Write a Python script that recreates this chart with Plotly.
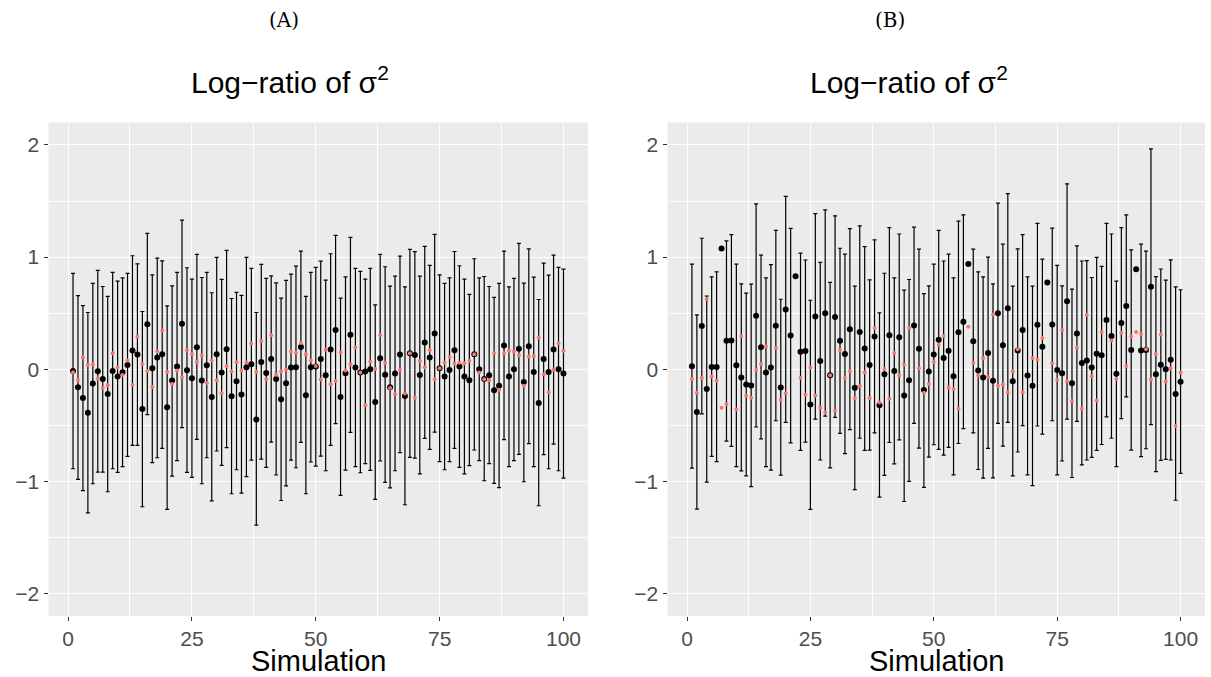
import plotly.graph_objects as go

sim = list(range(1, 101))

# ---- Panel A ----
A_est = [-0.015, -0.161, -0.256, -0.387, -0.128, -0.018, -0.086, -0.220, -0.015, -0.065,
         -0.027, 0.039, 0.167, 0.131, -0.354, 0.402, 0.009, 0.104, 0.134, -0.339,
         -0.101, 0.024, 0.405, -0.009, -0.080, 0.197, -0.101, 0.036, -0.247, 0.134,
         -0.030, 0.179, -0.241, -0.107, -0.226, 0.018, 0.045, -0.449, 0.065, -0.033,
         0.092, -0.086, -0.268, -0.125, 0.015, 0.018, 0.199, -0.232, 0.018, 0.024,
         0.092, -0.054, 0.176, 0.351, -0.247, -0.036, 0.307, 0.015, -0.030, -0.021,
         0.000, -0.292, 0.098, -0.048, -0.161, -0.039, 0.131, -0.238, 0.143, 0.128,
         -0.051, 0.238, 0.104, 0.318, 0.009, -0.065, -0.006, 0.170, 0.024, -0.065,
         -0.098, 0.134, 0.000, -0.086, -0.054, -0.188, -0.146, 0.211, -0.065, 0.000,
         0.182, -0.113, 0.205, -0.024, -0.301, 0.092, -0.024, 0.176, 0.000, -0.039]
A_truth = [-0.027, -0.095, 0.104, 0.039, 0.042, -0.083, -0.164, -0.143, 0.143, 0.015,
           -0.051, 0.077, -0.140, 0.292, 0.048, -0.015, -0.158, 0.161, 0.345, -0.024,
           -0.131, -0.012, -0.074, 0.170, 0.134, 0.065, 0.122, -0.125, 0.077, -0.098,
           -0.214, 0.030, -0.018, 0.063, -0.012, 0.060, 0.229, -0.024, 0.250, -0.089,
           0.304, -0.048, -0.021, -0.003, 0.158, 0.146, 0.235, 0.134, 0.080, 0.030,
           -0.092, 0.173, -0.134, -0.104, 0.152, -0.012, 0.042, 0.193, -0.030, -0.321,
           0.068, 0.003, 0.304, 0.057, -0.167, -0.223, -0.006, -0.217, 0.143, -0.253,
           0.071, 0.018, 0.170, -0.089, 0.009, 0.060, 0.110, 0.048, 0.057, 0.054,
           0.074, 0.134, -0.030, -0.089, -0.098, 0.143, -0.182, 0.143, 0.164, 0.158,
           0.125, -0.146, 0.113, 0.119, 0.283, -0.045, -0.206, -0.003, 0.232, 0.164]
A_upper = [0.854, 0.657, 0.568, 0.506, 0.765, 0.881, 0.738, 0.649, 0.863, 0.786,
           0.815, 0.854, 1.012, 0.940, 0.515, 1.211, 0.842, 0.991, 0.967, 0.565,
           0.744, 0.863, 1.330, 0.905, 0.804, 1.024, 0.818, 0.863, 0.682, 0.997,
           0.801, 1.060, 0.631, 0.685, 0.658, 0.997, 0.899, 0.506, 0.935, 0.810,
           0.833, 0.771, 0.634, 0.792, 0.848, 0.920, 1.054, 0.649, 0.863, 0.908,
           0.964, 0.795, 1.030, 1.193, 0.634, 0.824, 1.176, 0.899, 0.872, 0.804,
           0.899, 0.574, 1.024, 0.914, 0.741, 0.830, 1.009, 0.735, 1.069, 1.048,
           0.830, 1.095, 0.926, 1.202, 0.842, 0.765, 0.815, 1.050, 0.923, 0.804,
           0.667, 0.985, 0.815, 0.827, 0.738, 0.640, 0.765, 1.054, 0.735, 0.810,
           1.122, 0.768, 1.074, 0.821, 0.622, 0.946, 0.839, 1.018, 0.908, 0.893]
A_lower = [-0.887, -0.982, -1.083, -1.280, -1.021, -0.917, -0.917, -1.092, -0.887, -0.920,
           -0.869, -0.777, -0.679, -0.679, -1.226, -0.405, -0.833, -0.789, -0.705, -1.250,
           -0.952, -0.815, -0.521, -0.920, -0.964, -0.625, -1.021, -0.789, -1.173, -0.729,
           -0.857, -0.699, -1.110, -0.896, -1.104, -0.958, -0.810, -1.390, -0.801, -0.875,
           -0.649, -0.943, -1.170, -1.039, -0.810, -0.878, -0.652, -1.110, -0.827, -0.863,
           -0.774, -0.905, -0.679, -0.485, -1.125, -0.899, -0.562, -0.869, -0.923, -0.842,
           -0.902, -1.161, -0.818, -1.009, -1.057, -0.905, -0.744, -1.208, -0.786, -0.792,
           -0.932, -0.616, -0.714, -0.560, -0.824, -0.896, -0.824, -0.705, -0.875, -0.932,
           -0.860, -0.720, -0.815, -0.994, -0.842, -1.017, -1.056, -0.628, -0.869, -0.815,
           -0.759, -1.003, -0.664, -0.869, -1.217, -0.762, -0.887, -0.667, -0.905, -0.970]

# ---- Panel B ----
B_est = [0.026, -0.382, 0.385, -0.176, 0.021, 0.021, 1.076, 0.253, 0.256, 0.035,
         -0.074, -0.135, -0.144, 0.476, 0.197, -0.029, 0.015, 0.388, -0.162, 0.532,
         0.300, 0.829, 0.156, 0.162, -0.315, 0.471, 0.074, 0.500, -0.053, 0.465,
         0.253, 0.135, 0.356, -0.165, 0.332, 0.185, 0.038, 0.291, -0.321, -0.044,
         0.303, -0.015, 0.285, -0.235, -0.097, 0.391, 0.182, -0.185, -0.021, 0.132,
         0.262, 0.100, 0.165, -0.062, 0.329, 0.424, 0.938, 0.250, -0.012, -0.074,
         0.144, -0.103, 0.500, 0.215, 0.544, -0.106, 0.168, 0.350, -0.056, -0.147,
         0.397, 0.200, 0.774, 0.400, -0.006, -0.035, 0.606, -0.124, 0.318, 0.056,
         0.079, 0.015, 0.138, 0.124, 0.438, 0.297, -0.041, 0.412, 0.565, 0.171,
         0.891, 0.168, 0.171, 0.735, -0.044, 0.041, 0.000, 0.085, -0.221, -0.112]
B_truth = [-0.088, -0.209, -0.076, 0.626, -0.065, -0.103, -0.344, -0.312, None, -0.359,
           0.297, -0.235, -0.253, -0.006, 0.047, 0.203, None, 0.188, -0.273, -0.215,
           None, None, -0.076, -0.226, 0.015, -0.235, -0.344, -0.385, -0.053, -0.371,
           0.171, -0.079, -0.018, -0.259, -0.150, -0.029, -0.259, 0.368, -0.297, 0.003,
           -0.262, 0.144, -0.053, 0.041, 0.371, None, 0.009, -0.209, -0.132, 0.065,
           0.218, 0.297, -0.162, -0.176, -0.353, None, 0.379, 0.059, -0.056, 0.097,
           -0.068, 0.488, -0.147, -0.135, -0.206, -0.018, 0.179, -0.206, None, 0.100,
           0.085, 0.279, None, 0.053, -0.094, 0.350, -0.106, -0.282, 0.194, -0.353,
           0.485, -0.062, -0.279, 0.329, None, 0.256, -0.088, 0.326, 0.029, 0.291,
           0.332, 0.315, 0.179, -0.091, 0.135, 0.309, -0.109, 0.009, -0.506, -0.029]
B_upper = [0.938, 0.485, 1.168, 0.653, 0.824, 0.868, None, 1.144, 1.200, 0.938,
           0.762, 0.679, 0.759, 1.474, 1.018, 0.815, 0.932, 1.238, 0.624, 1.541,
           1.256, None, 1.035, 0.974, 0.615, 1.388, 0.953, 1.421, 0.774, 1.368,
           1.079, 1.026, 1.253, 0.741, 1.279, 1.094, 0.797, 1.153, 0.503, 0.856,
           1.262, 0.815, 1.206, 0.706, 0.800, 1.268, 1.071, 0.674, 0.744, 0.938,
           1.238, 0.965, 1.026, 0.815, 1.321, 1.376, None, 1.071, 0.868, 0.824,
           1.000, 0.762, 1.482, 1.115, 1.565, 0.741, 1.074, 1.200, 0.824, 0.741,
           1.300, 0.982, None, 1.259, 0.926, 0.744, 1.653, 0.715, 1.100, 0.965,
           0.968, 0.818, 0.997, 0.918, 1.300, 1.206, 0.785, 1.262, 1.376, 1.065,
           None, 1.115, 1.053, 1.965, 0.826, 0.894, 0.794, 0.976, 0.735, 0.709]
B_lower = [-0.882, -1.247, -0.397, -1.006, -0.776, -0.824, None, -0.641, -0.688, -0.868,
           -0.906, -0.950, -1.047, -0.515, -0.621, -0.868, -0.900, -0.459, -0.944, -0.474,
           -0.656, None, -0.724, -0.650, -1.250, -0.444, -0.809, -0.418, -0.880, -0.429,
           -0.571, -0.753, -0.538, -1.074, -0.615, -0.724, -0.721, -0.568, -1.141, -0.947,
           -0.653, -0.844, -0.629, -1.179, -1.000, -0.482, -0.703, -1.053, -0.783, -0.673,
           -0.715, -0.765, -0.697, -0.941, -0.662, -0.529, None, -0.568, -0.894, -0.971,
           -0.706, -0.968, -0.482, -0.685, -0.474, -0.950, -0.738, -0.503, -0.941, -1.038,
           -0.506, -0.579, None, -0.459, -0.941, -0.818, -0.444, -0.965, -0.465, -0.853,
           -0.809, -0.785, -0.724, -0.671, -0.424, -0.615, -0.868, -0.441, -0.247, -0.721,
           None, -0.779, -0.709, -0.494, -0.912, -0.812, -0.803, -0.809, -1.168, -0.929]

x_ticks = [0, 25, 50, 75, 100]
y_ticks = [-2, -1, 0, 1, 2]

W, H = 1211, 677
fig = go.Figure()


def add_panel(est, truth, upper, lower, xa, ya):
    ex, ey, eplus, eminus = [], [], [], []
    for s, e, u, l in zip(sim, est, upper, lower):
        if u is None or l is None:
            continue
        ex.append(s)
        ey.append(e)
        eplus.append(u - e)
        eminus.append(e - l)
    fig.add_trace(go.Scatter(
        x=ex, y=ey, mode="markers", xaxis=xa, yaxis=ya,
        marker=dict(size=1, color="rgba(0,0,0,0)"),
        error_y=dict(type="data", symmetric=False, array=eplus, arrayminus=eminus,
                     color="black", thickness=1.2, width=2),
        showlegend=False, hoverinfo="skip"))
    fig.add_trace(go.Scatter(
        x=sim, y=est, mode="markers", xaxis=xa, yaxis=ya,
        marker=dict(size=6, color="black"), showlegend=False))
    fig.add_trace(go.Scatter(
        x=sim, y=truth, mode="markers", xaxis=xa, yaxis=ya,
        marker=dict(size=4, color="#F8766D"), showlegend=False))


add_panel(A_est, A_truth, A_upper, A_lower, "x", "y")
add_panel(B_est, B_truth, B_upper, B_lower, "x2", "y2")

ydom = [(H - 616) / H, (H - 122.5) / H]
tickfont = dict(family="Liberation Sans, Arial, sans-serif", size=21, color="#4D4D4D")


def xaxis_cfg(dom, anchor):
    return dict(domain=dom, anchor=anchor, range=[-3.95, 104.95], tickvals=x_ticks,
                ticks="outside", ticklen=4, tickwidth=1, tickcolor="#333333",
                showgrid=True, gridcolor="white", gridwidth=1.2, zeroline=False,
                showline=False, tickfont=tickfont, automargin=False,
                minor=dict(tickvals=[12.5, 37.5, 62.5, 87.5], showgrid=True,
                           gridcolor="white", gridwidth=0.6, ticks=""))


def yaxis_cfg(anchor):
    return dict(domain=ydom, anchor=anchor, range=[-2.2, 2.2], tickvals=y_ticks,
                ticks="outside", ticklen=4, tickwidth=1, tickcolor="#333333",
                showgrid=True, gridcolor="white", gridwidth=1.2, zeroline=False,
                showline=False, tickfont=tickfont, automargin=False,
                minor=dict(tickvals=[-1.5, -0.5, 0.5, 1.5], showgrid=True,
                           gridcolor="white", gridwidth=0.6, ticks=""))


xa_dom = [48.5 / W, 588 / W]
xb_dom = [667.5 / W, 1205 / W]

annotations = []
for label, cx in [("(A)", 284), ("(B)", 890)]:
    annotations.append(dict(text=label, x=cx / W, y=1 - 20 / H, xref="paper", yref="paper",
                            xanchor="center", yanchor="middle", showarrow=False,
                            font=dict(family="DejaVu Serif, Liberation Serif, serif", size=20, color="black")))
for cx in [290, 909]:
    annotations.append(dict(text="Log\u2212ratio of \u03c3<sup>2</sup>", x=cx / W, y=1 - 80 / H,
                            xref="paper", yref="paper", xanchor="center", yanchor="middle",
                            showarrow=False,
                            font=dict(family="Liberation Sans, Arial, sans-serif", size=30, color="black")))
for cx in [318, 936]:
    annotations.append(dict(text="Simulation", x=cx / W, y=1 - 661 / H,
                            xref="paper", yref="paper", xanchor="center", yanchor="middle",
                            showarrow=False,
                            font=dict(family="Liberation Sans, Arial, sans-serif", size=29, color="black")))

fig.update_layout(
    width=W, height=H, margin=dict(l=0, r=0, t=0, b=0),
    paper_bgcolor="white", plot_bgcolor="#EBEBEB",
    xaxis=xaxis_cfg(xa_dom, "y"), yaxis=yaxis_cfg("x"),
    xaxis2=xaxis_cfg(xb_dom, "y2"), yaxis2=yaxis_cfg("x2"),
    annotations=annotations, showlegend=False,
)

fig.write_html("out.html")
